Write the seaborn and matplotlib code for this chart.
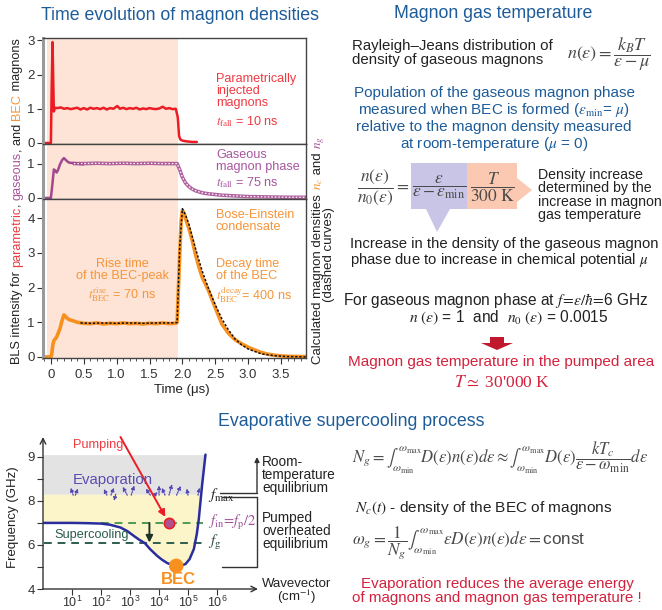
import numpy as np
import matplotlib
matplotlib.use("Agg")
import matplotlib.pyplot as plt
import seaborn as sns
from matplotlib.ticker import MultipleLocator
from matplotlib.patches import Rectangle, Polygon

# --- time traces (time in us, normalised BLS intensity) ---
t_par = [-0.12, 0.0, 0.012, 0.025, 0.035, 0.045, 0.06, 0.1, 0.15, 0.2, 0.25, 0.3, 0.35, 0.4,
         0.45, 0.5, 0.55, 0.6, 0.65, 0.7, 0.75, 0.8, 0.85, 0.9, 0.95, 1.01, 1.05, 1.1, 1.15,
         1.2, 1.25, 1.3, 1.35, 1.4, 1.45, 1.5, 1.55, 1.6, 1.65, 1.7, 1.75, 1.8, 1.85, 1.9,
         1.93, 1.95, 1.97, 2.0, 2.05, 2.1, 2.15, 2.22]
n_par = [0, 0, 1.6, 2.95, 1.9, 0.92, 1.03, 1.02, 1.04, 1.0, 1.02, 0.99, 1.01, 1.03,
         0.98, 1.02, 0.98, 1.03, 1.0, 1.02, 0.99, 1.03, 0.98, 1.02, 1.0, 1.08, 1.0, 1.03, 0.99,
         1.02, 1.0, 1.03, 0.98, 1.01, 0.99, 1.02, 1.0, 0.99, 1.01, 1.06, 1.0, 1.02, 0.99, 1.0,
         0.75, 0.2, 0.1, 0.07, 0.05, 0.04, 0.03, 0.03]

t_gas = [-0.12, 0.0, 0.02, 0.045, 0.065, 0.087, 0.11, 0.137, 0.17, 0.198, 0.23, 0.264,
         0.3, 0.34, 0.4, 0.49]
n_gas = [0, 0, 0.35, 0.83, 0.8, 0.74, 0.82, 0.97, 1.1, 1.16, 1.1, 1.04,
         1.02, 1.02, 1.0, 0.98]

t_ng = [0.35, 0.5, 0.7, 0.9, 1.1, 1.3, 1.5, 1.7, 1.92, 1.96, 2.0, 2.05, 2.1, 2.15, 2.2,
        2.3, 2.4, 2.5, 2.6, 2.8, 3.0, 3.3, 3.6, 3.88]
n_ng = [1.0, 1.0, 1.01, 1.0, 1.01, 1.0, 1.01, 1.0, 1.0, 0.82, 0.6, 0.43, 0.33, 0.26, 0.21,
        0.15, 0.12, 0.1, 0.08, 0.06, 0.04, 0.03, 0.02, 0.02]

t_bec = [-0.12, 0.0, 0.01, 0.03, 0.046, 0.087, 0.137, 0.17, 0.198, 0.23, 0.264, 0.3, 0.34,
         0.4, 0.49, 0.6, 0.7, 0.8, 0.9, 1.0, 1.1, 1.2, 1.3, 1.4, 1.5, 1.6, 1.7, 1.8, 1.9,
         1.92, 1.95, 1.98, 2.0, 2.03, 2.06, 2.1, 2.15, 2.2, 2.25, 2.3, 2.4, 2.5, 2.6, 2.7,
         2.8, 2.9, 3.0, 3.1, 3.2, 3.3, 3.4, 3.5, 3.6, 3.7, 3.88]
n_bec = [0.0, 0.0, 0.05, 0.35, 0.47, 0.57, 0.81, 1.05, 1.21, 1.15, 1.09, 1.06, 1.04,
         1.0, 0.97, 0.96, 0.98, 0.95, 0.97, 0.96, 0.98, 0.96, 0.97, 0.95, 0.97, 0.96, 0.98, 0.96, 0.97,
         1.0, 2.5, 3.9, 4.22, 4.12, 3.92, 3.7, 3.35, 2.95, 2.6, 2.3, 1.9, 1.42, 0.95, 0.68,
         0.5, 0.38, 0.28, 0.2, 0.13, 0.08, 0.05, 0.03, 0.02, 0.015, 0.01]

t_nc = [0.45, 0.6, 0.8, 1.0, 1.2, 1.4, 1.6, 1.8, 1.92, 1.96, 2.0, 2.05, 2.1, 2.2, 2.3, 2.4,
        2.5, 2.6, 2.7, 2.8, 2.9, 3.0, 3.2, 3.4, 3.6, 3.88]
n_nc = [0.98, 0.97, 0.98, 0.97, 0.98, 0.97, 0.98, 0.98, 0.99, 3.2, 4.27, 4.08, 3.82, 3.12,
        2.48, 1.96, 1.5, 1.1, 0.78, 0.52, 0.35, 0.23, 0.09, 0.035, 0.012, 0.0]

pump_on, pump_off = -0.056, 1.93
time_ticks = [0, 0.5, 1.0, 1.5, 2.0, 2.5, 3.0, 3.5]
time_labels = ["0", "0.5", "1.0", "1.5", "2.0", "2.5", "3.0", "3.5"]

# --- magnon spectrum sketch (wavevector in cm^-1, frequency in GHz) ---
k_disp = [1, 10, 30, 100, 200, 470, 800, 1350, 2000, 3240, 5000, 8500, 1.26e4, 1.9e4,
          2.8e4, 3.9e4, 5.6e4, 8.1e4, 1.12e5, 1.58e5, 2e5, 2.34e5, 3.02e5, 3.98e5]
f_disp = [7.0, 7.0, 6.99, 6.97, 6.92, 6.79, 6.63, 6.41, 6.25, 6.08, 5.8, 5.51, 5.33, 5.18,
          5.09, 5.05, 5.06, 5.13, 5.35, 5.81, 6.5, 7.17, 8.34, 9.05]
f_max, f_top, f_in, f_g = 8.15, 9.05, 7.0, 6.07
k_pump, k_bec, k_cool = 2.15e4, 3.9e4, 4650
f_bec = 5.05
k_ticks = [1e1, 1e2, 1e3, 1e4, 1e5, 1e6]
f_ticks = [4, 5, 6, 7, 8, 8.5, 9]
f_labels = ["4", "", "6", "", "8", "", "9"]
evap_k0 = [11, 13, 160, 220, 320, 800, 1100, 5000, 7000, 1e4, 1.6e4, 2.2e4, 4e4, 1e5, 2.2e5]
evap_f0 = [8.13, 8.13, 8.13, 8.13, 8.15, 8.13, 8.13, 8.13, 8.13, 8.13, 8.13, 8.13, 8.13, 8.13, 8.13]
evap_k1 = [9, 16, 125, 280, 280, 560, 1400, 3500, 9000, 1e4, 1.25e4, 2.8e4, 5.6e4, 9e4, 2.5e5]
evap_f1 = [8.3, 8.28, 8.27, 8.3, 8.0, 8.32, 8.35, 8.28, 8.2, 8.35, 8.3, 8.38, 8.34, 8.28, 8.3]

W, H = 662, 610
RED, PURPLE, ORANGE = "#ec1c24", "#a2488f", "#f7901e"
RED_T, PURPLE_T, ORANGE_T = "#ef3a42", "#a8569e", "#f5953a"
BLUE = "#1d5c99"
SHADE = "#fde4d7"
CRIMSON = "#d4213d"
DARK = "#222222"
GRAYF = "#4a4a4a"

sns.set_style("ticks")
plt.rcParams["font.family"] = ["Liberation Sans", "DejaVu Sans"]
plt.rcParams["mathtext.fontset"] = "stix"

fig = plt.figure(figsize=(W / 100, H / 100), dpi=100)


def box(x0, y0, x1, y1):
    return [x0 / W, 1 - y1 / H, (x1 - x0) / W, (y1 - y0) / H]


# --- time-evolution panels ---
ax1 = fig.add_axes(box(43, 38, 306, 144))
ax2 = fig.add_axes(box(43, 144, 306, 199))
ax3 = fig.add_axes(box(43, 199, 306, 358))
for ax, top, yt in [(ax1, 3.07, [0, 1, 2, 3]), (ax2, 1.57, [0, 1]), (ax3, 4.55, [0, 1, 2, 3, 4])]:
    ax.axvspan(pump_on, pump_off, color=SHADE, lw=0, zorder=0)
    ax.set_xlim(-0.12, 3.88)
    ax.set_ylim(-0.03, top)
    ax.set_yticks(yt)
    ax.tick_params(axis="y", direction="out", length=4, width=0.8, labelsize=9.5, pad=2, colors="#333")
    ax.tick_params(axis="x", bottom=False, labelbottom=False)
    for s in ax.spines.values():
        s.set_color("#444")
        s.set_linewidth(1.0)
    ax.spines["left"].set_color("#9a9a9a")
    ax.spines["left"].set_linewidth(2.2)

sns.lineplot(x=t_par, y=n_par, ax=ax1, color=RED, lw=1.8, estimator=None)
sns.lineplot(x=t_gas, y=n_gas, ax=ax2, color=PURPLE, lw=1.8, estimator=None)
sns.lineplot(x=t_ng, y=n_ng, ax=ax2, color=PURPLE, lw=2.6, estimator=None, alpha=0.85)
sns.lineplot(x=t_ng, y=n_ng, ax=ax2, color="white", lw=0.9, estimator=None, linestyle=(0, (1.2, 1.6)))
sns.lineplot(x=t_bec, y=n_bec, ax=ax3, color=ORANGE, lw=2.6, estimator=None)
sns.lineplot(x=t_nc, y=n_nc, ax=ax3, color="#111", lw=1.1, estimator=None, linestyle=(0, (1.5, 1.2)))

ax3.tick_params(axis="x", bottom=True, labelbottom=True, direction="out", length=4, width=0.8,
                labelsize=9.5, pad=4, colors="#333")
ax3.set_xticks(time_ticks)
ax3.set_xticklabels(time_labels)
ax3.xaxis.set_minor_locator(MultipleLocator(0.1))
ax3.tick_params(axis="x", which="minor", direction="out", length=2.5, width=0.6, colors="#333")
for ax in (ax1, ax2, ax3):
    ax.set_xlabel("")
    ax.set_ylabel("")


# --- magnon spectrum sketch ---
def fwd(f):
    f = np.asarray(f, float)
    return np.where(f <= 8, f - 4, 4 + 2 * (f - 8))


def inv(u):
    u = np.asarray(u, float)
    return np.where(u <= 4, u + 4, 8 + (u - 4) / 2)


axf = fig.add_axes(box(43, 437, 258, 589))
axf.set_xscale("log")
axf.set_yscale("function", functions=(fwd, inv))
axf.set_xlim(1, 10 ** 7.41)
axf.set_ylim(4, 9.45)
k = np.array(k_disp)
f = np.array(f_disp)
axf.fill_between(k, np.maximum(f, f_max), f_top, color="#e3e3e3", lw=0, zorder=0)
axf.fill_between(k, f, f_max, where=f <= f_max, interpolate=True, color="#fdf5ca", lw=0, zorder=0)
axf.plot([100, 3.4e5], [f_in, f_in], color="#4f9a55", lw=1.4, ls=(0, (4, 3)), zorder=2)
axf.plot([1.05, 3.4e5], [f_g, f_g], color="#2f5e4e", lw=1.4, ls=(0, (4, 3)), zorder=2)
sns.lineplot(x=k_disp, y=f_disp, ax=axf, color="#2a2e9c", lw=1.8, estimator=None, sort=False, zorder=3)
for a, b, c, d in zip(evap_k0, evap_f0, evap_k1, evap_f1):
    axf.annotate("", xy=(c, d), xytext=(a, b),
                 arrowprops=dict(arrowstyle="-|>", lw=0.9, ls=(0, (1, 1)), color="#5448b0",
                                 mutation_scale=5, shrinkA=0, shrinkB=0))
axf.annotate("", xy=(k_cool, f_g + 0.04), xytext=(k_cool, f_in),
             arrowprops=dict(arrowstyle="-|>", lw=1.4, color="#1d3328", mutation_scale=10,
                             shrinkA=0, shrinkB=0))
axf.annotate("", xy=(k_pump, f_in), xytext=(10 ** 2.67, 9.45),
             arrowprops=dict(arrowstyle="-|>", lw=1.4, color=RED, mutation_scale=10,
                             shrinkA=0, shrinkB=5), annotation_clip=False)
sns.scatterplot(x=[k_pump], y=[f_in], ax=axf, s=55, color="#b0508e", edgecolor=RED,
                linewidth=1.2, zorder=5)
sns.scatterplot(x=[k_bec], y=[f_bec], ax=axf, s=110, color=ORANGE, edgecolor="none", zorder=5)
for s in axf.spines.values():
    s.set_visible(False)
axf.annotate("", xy=(0, 1), xytext=(0, 0), xycoords="axes fraction",
             arrowprops=dict(arrowstyle="->", lw=1.0, color="#333", shrinkA=0, shrinkB=0))
axf.annotate("", xy=(1, 0), xytext=(0, 0), xycoords="axes fraction",
             arrowprops=dict(arrowstyle="->", lw=1.0, color="#333", shrinkA=0, shrinkB=0))
axf.set_xticks(k_ticks)
axf.set_yticks(f_ticks)
axf.set_yticklabels(f_labels)
axf.tick_params(axis="y", which="major", direction="out", length=4, width=0.8, labelsize=9.5,
                pad=2, colors="#333")
axf.tick_params(axis="x", which="major", direction="out", length=4, width=0.8, labelsize=9,
                pad=0.5, colors="#333")
axf.tick_params(axis="x", which="minor", direction="out", length=2.5, width=0.6, colors="#333")
axf.set_xlabel("")
axf.set_ylabel("")

# --- overlay in pixel coordinates for all free text ---
ov = fig.add_axes([0, 0, 1, 1], zorder=20)
ov.set_xlim(0, W)
ov.set_ylim(H, 0)
ov.axis("off")


def T(x, y, s, size=9.5, color=DARK, ha="left", va="center", **kw):
    return ov.text(x, y, s, fontsize=size, color=color, ha=ha, va=va, **kw)


renderer = fig.canvas.get_renderer()


def text_len(s, size):
    probe = ov.text(0, 0, "|" + s + "|", fontsize=size)
    bar = ov.text(0, 0, "||", fontsize=size)
    w = probe.get_window_extent(renderer).width - bar.get_window_extent(renderer).width
    probe.remove()
    bar.remove()
    return w


def vtext(x, yc, pieces, size):
    lens = [text_len(s, size) for s, _ in pieces]
    y = yc + sum(lens) / 2
    for (s, c), L in zip(pieces, lens):
        ov.text(x, y, s, fontsize=size, color=c, rotation=90, rotation_mode="anchor",
                ha="left", va="baseline")
        y -= L


# titles
T(180, 15, "Time evolution of magnon densities", 12.8, BLUE, ha="center")
T(493, 14, "Magnon gas temperature", 12.8, BLUE, ha="center")
T(351, 422, "Evaporative supercooling process", 12.8, BLUE, ha="center")

# axis labels of the time panels
vtext(20, 201, [("BLS intensity for ", DARK), ("parametric", RED_T), (", ", DARK),
                ("gaseous", PURPLE_T), (", and ", DARK), ("BEC", ORANGE_T), (" magnons", DARK)], 9.2)
vtext(321, 250, [("Calculated magnon densities ", DARK), (r"$n_c$", ORANGE_T), (" and ", DARK),
                 (r"$n_g$", PURPLE_T)], 9.5)
vtext(332, 255, [("(dashed curves)", DARK)], 9.5)
T(182, 390, "Time (\u03bcs)", 9.5, ha="center")

# panel annotations
T(216, 91, "Parametrically\ninjected\nmagnons", 9.1, RED_T, linespacing=1.0)
T(216, 122, r"$t_{\rm fall}$ = 10 ns", 9.1, RED_T)
T(216, 161, "Gaseous\nmagnon phase", 9.1, PURPLE_T, linespacing=1.0)
T(216, 183, r"$t_{\rm fall}$ = 75 ns", 9.1, PURPLE_T)
T(216, 221, "Bose-Einstein\ncondensate", 9.1, ORANGE_T, linespacing=1.0)
T(216, 270, "Decay time\nof the BEC", 9.1, ORANGE_T, linespacing=1.0)
T(216, 295, r"$t_{\rm BEC}^{\rm decay}$= 400 ns", 9.1, ORANGE_T)
T(122, 270, "Rise time\nof the BEC-peak", 9.1, ORANGE_T, ha="center", multialignment="center",
  linespacing=1.0)
T(122, 295, r"$t_{\rm BEC}^{\rm rise}$ = 70 ns", 9.1, ORANGE_T, ha="center")

# magnon gas temperature block
T(352, 53, "Rayleigh\u2013Jeans distribution of\ndensity of gaseous magnons", 10.8, linespacing=1.05)
T(567, 54, r"$n(\varepsilon)=\dfrac{k_BT}{\varepsilon-\mu}$", 13, GRAYF)
T(494, 93, "Population of the gaseous magnon phase", 11, BLUE, ha="center")
T(494, 110, r"measured when BEC is formed ($\varepsilon_{\rm min}$= $\mu$)", 11, BLUE, ha="center")
T(494, 127, "relative to the magnon density measured", 11, BLUE, ha="center")
T(494, 144, r"at room-temperature ($\mu$ = 0)", 11, BLUE, ha="center")

ov.add_patch(Rectangle((411, 163), 56, 46, color="#c9c5e6", lw=0))
ov.add_patch(Rectangle((467, 163), 50, 46, color="#fbc9b2", lw=0))
ov.add_patch(Polygon([(426, 209), (450, 209), (437, 232)], closed=True, color="#c9c5e6", lw=0))
ov.add_patch(Polygon([(517, 178), (517, 202), (532, 190)], closed=True, color="#fbc9b2", lw=0))
T(357, 187, r"$\dfrac{n(\varepsilon)}{n_0(\varepsilon)}=$", 12.5, GRAYF)
T(439, 187, r"$\dfrac{\varepsilon}{\varepsilon-\varepsilon_{\rm min}}$", 12.5, GRAYF, ha="center")
T(492, 187, r"$\dfrac{T}{300\ {\rm K}}$", 12.5, GRAYF, ha="center")
T(538, 195, "Density increase\ndetermined by the\nincrease in magnon\ngas temperature", 10.2,
  linespacing=0.95)
T(350, 253, "Increase in the density of the gaseous magnon\n"
            r"phase due to increase in chemical potential $\mu$", 10.7, linespacing=1.0)
T(343, 300, r"For gaseous magnon phase at $f\!=\!\varepsilon/\hbar\!=\!$6 GHz", 11.2)
T(509, 318, r"$n\ (\varepsilon)$ = 1  and  $n_0\ (\varepsilon)$ = 0.0015", 11.2, ha="center")
ov.add_patch(Polygon([(490, 337), (504, 337), (504, 343), (513, 343), (497, 350), (481, 343),
                      (490, 343)], closed=True, color="#c0182c", lw=0))
T(501, 362, "Magnon gas temperature in the pumped area", 11, CRIMSON, ha="center")
T(502, 383, r"$T\simeq$ 30'000 K", 12.5, CRIMSON, ha="center", family=["Liberation Serif", "DejaVu Serif"])

# evaporative supercooling block
T(352, 458, r"$N_g=\int_{\omega_{\rm min}}^{\omega_{\rm max}} D(\varepsilon)n(\varepsilon)d\varepsilon"
            r"\approx\int_{\omega_{\rm min}}^{\omega_{\rm max}} D(\varepsilon)"
            r"\dfrac{kT_c}{\varepsilon-\omega_{\rm min}}d\varepsilon$", 12, GRAYF)
T(355, 508, r"$N_c(t)$ - density of the BEC of magnons", 11.1)
T(352, 543, r"$\omega_g=\dfrac{1}{N_g}\int_{\omega_{\rm min}}^{\omega_{\rm max}}"
            r"\varepsilon D(\varepsilon)n(\varepsilon)d\varepsilon=$const", 12.3, GRAYF)
T(497, 591, "Evaporation reduces the average energy\nof magnons and magnon gas temperature !",
  10.9, CRIMSON, ha="center", multialignment="center", linespacing=1.05)

# spectrum labels
ov.text(13, 517, "Frequency (GHz)", fontsize=9.5, color=DARK, rotation=90, ha="center", va="center")
T(73, 445, "Pumping", 9.2, RED_T)
T(73, 480, "Evaporation", 10.8, "#5b4db0")
T(54, 535, "Supercooling", 9.2, "#2a5a48")
T(178, 579, "BEC", 12, ORANGE, ha="center", weight="bold")
T(208, 495, r"$f_{\rm max}$", 11, DARK)
T(208, 523, r"$f_{\rm in}\!=\!f_{\rm p}/2$", 10.5, "#a0509a")
T(208, 543, r"$f_{\rm g}$", 11, "#2a4a40")
T(262, 475, "Room-\ntemperature\nequilibrium", 9.8, linespacing=0.92)
T(262, 531, "Pumped\noverheated\nequilibrium", 9.8, linespacing=0.92)
T(262, 592, "Wavevector\n(cm$^{-1}$)", 9.5, linespacing=0.9, multialignment="center")
ov.plot([220, 257], [493, 493], color="#333", lw=1.0)
ov.plot([222, 257], [497, 497], color="#333", lw=1.0)
ov.plot([222, 257], [567, 567], color="#333", lw=1.0)
ov.plot([257, 257], [497, 567], color="#333", lw=1.0)
ov.annotate("", xy=(257, 457), xytext=(257, 493),
            arrowprops=dict(arrowstyle="-|>", lw=1.0, color="#333", mutation_scale=7,
                            shrinkA=0, shrinkB=0))

fig.savefig("out.png", dpi=100)
